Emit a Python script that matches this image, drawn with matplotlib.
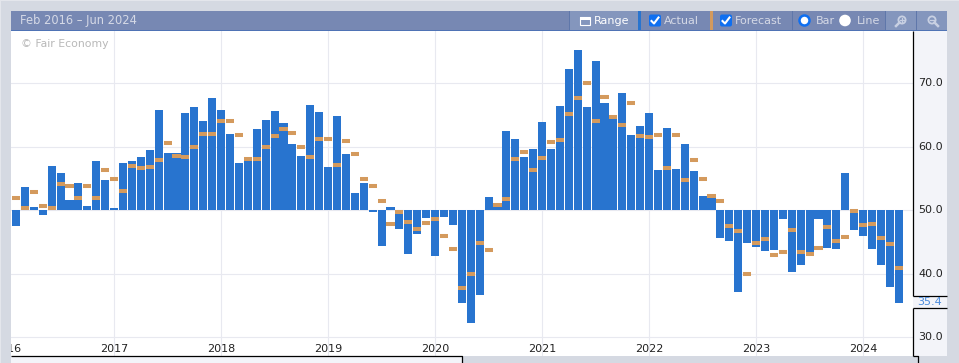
import numpy as np
import matplotlib
matplotlib.use("Agg")
import matplotlib.pyplot as plt
from matplotlib.patches import Rectangle, Circle, FancyBboxPatch

# Feb 2016 - May 2024, one value per month
actual = [47.5, 53.7, 50.5, 49.3, 57.0, 55.9, 51.6, 54.3, 50.7, 57.8, 54.8,
          50.4, 57.5, 57.8, 58.4, 59.5, 65.8, 59.0, 59.0, 65.3, 66.3, 64.1, 67.7,
          65.8, 62.0, 57.5, 57.8, 62.8, 64.2, 65.6, 63.8, 60.4, 58.6, 66.6, 65.5,
          56.8, 64.9, 58.9, 52.7, 54.3, 49.7, 44.4, 50.5, 47.1, 43.1, 46.3, 48.8,
          42.8, 49.0, 47.7, 35.4, 32.3, 36.6, 52.1, 51.2, 62.5, 61.2, 58.4, 59.7,
          63.9, 59.7, 66.4, 72.3, 75.2, 66.3, 73.5, 66.9, 64.4, 68.5, 61.9, 63.3,
          65.3, 56.4, 62.9, 56.5, 60.4, 56.2, 52.3, 51.9, 45.6, 45.2, 37.1, 44.9,
          44.2, 43.6, 43.8, 48.6, 40.3, 41.4, 43.4, 48.6, 44.1, 43.9, 55.9, 46.9,
          46.0, 43.9, 41.4, 37.9, 35.4]
forecast = [52.0, 50.4, 52.9, 50.7, 50.4, 54.2, 53.8, 52.0, 53.8, 52.0, 56.4,
            55.0, 53.0, 57.0, 56.7, 56.8, 57.9, 60.6, 58.6, 58.4, 60.0, 62.0, 62.0,
            64.1, 64.1, 61.9, 58.1, 58.1, 60.0, 61.7, 62.8, 62.2, 60.0, 58.4, 61.2,
            61.2, 57.1, 60.9, 58.9, 54.9, 53.8, 51.5, 47.8, 49.7, 48.2, 47.1, 48.0,
            48.6, 46.0, 43.9, 37.8, 40.0, 44.9, 43.8, 50.8, 51.8, 58.1, 59.2, 56.4,
            58.2, 60.8, 61.1, 65.2, 67.7, 70.1, 64.1, 67.8, 64.7, 63.4, 66.9, 61.7,
            61.5, 61.9, 56.7, 61.9, 54.8, 57.9, 54.9, 52.3, 51.5, 47.5, 46.7, 40.0,
            44.9, 45.5, 43.0, 43.4, 46.9, 43.4, 43.1, 44.1, 47.4, 45.2, 45.8, 49.9,
            47.7, 47.8, 45.6, 44.7, 40.9]
years = [2016, 2017, 2018, 2019, 2020, 2021, 2022, 2023, 2024]
y_ticks = [30, 40, 50, 60, 70]

W, H = 959, 363
BAR = "#2874cf"
FC = "#d49a5d"
GRID = "#e8e9f0"
BG = "#d5d9e2"
PANEL = "#f3f4f9"
HEAD = "#7788b3"
HEAD2 = "#8496bd"
plt.rcParams["font.family"] = "DejaVu Sans"

fig = plt.figure(figsize=(W / 100, H / 100), dpi=100, facecolor=BG)

# chrome, in pixel coordinates
ui = fig.add_axes([0, 0, 1, 1], zorder=0)
ui.set_xlim(0, W)
ui.set_ylim(H, 0)
ui.axis("off")


def box(x0, y0, x1, y1, color, ax=ui, **kw):
    ax.add_patch(Rectangle((x0, y0), x1 - x0, y1 - y0, fc=color, ec="none", **kw))


box(0, 0, W, 1, "#e4e6ec")
box(0, 0, 1, H, "#e4e6ec")
box(913, 31, 947, 356, PANEL)
box(11, 356, 462, 363, PANEL)

# main plot
left, right, top, bottom = 11, 913, 31, 356
ax = fig.add_axes([left / W, 1 - bottom / H, (right - left) / W, (bottom - top) / H], zorder=1)
step = 107 / 12
px0 = 16.0
for s in ax.spines.values():
    s.set_visible(False)
ax.tick_params(length=0, labelleft=False, labelbottom=False)

x = np.arange(len(actual))
a = np.array(actual)
f = np.array(forecast)
year_pos = [(yr - 2016) * 12 - 1 for yr in years]
ax.set_xticks(year_pos)
ax.set_yticks(y_ticks)
ax.grid(True, color=GRID, lw=0.8)
ax.set_axisbelow(True)
ax.bar(x, a - 50, bottom=50, width=0.9, color=BAR, zorder=2)
ax.hlines(f, x - 0.45, x + 0.45, color=FC, lw=2.9, zorder=3)
ax.set_xlim((left - px0) / step, (right - px0) / step)
ax.set_ylim(50 - (bottom - 210.3) / 6.35, 50 + (210.3 - top) / 6.35)
for yr, p in zip(years, year_pos):
    t = ax.annotate(str(yr), (p, 0), xycoords=ax.get_xaxis_transform(), xytext=(0, 7 / 1.39),
                    textcoords="offset points", ha="center", va="center",
                    fontsize=8, color="#222222", annotation_clip=False, clip_on=True)
    t.set_clip_path(ax.patch)
ax.annotate("© Fair Economy", (0, 1), xycoords="axes fraction", xytext=(10 / 1.39, -13 / 1.39),
            textcoords="offset points", va="center", fontsize=7.8, color="#b8b8b8")

# overlay: axis lines, header, toolbar
ov = fig.add_axes([0, 0, 1, 1], zorder=2)
ov.set_xlim(0, W)
ov.set_ylim(H, 0)
ov.axis("off")
ov.patch.set_alpha(0)

for v in y_ticks:
    ov.text(930.5, 210.3 - (v - 50) * 6.35, f"{v:.1f}", ha="center", va="center", fontsize=8, color="#222222")
ov.plot([912.5, 912.5], [31, 296], color="black", lw=0.9, solid_capstyle="butt")
ov.plot([912.5, 912.5], [307.5, 356], color="black", lw=0.9, solid_capstyle="butt")
ov.plot([912.5, 947], [296, 296], color="black", lw=0.9, solid_capstyle="butt")
ov.plot([912.5, 947], [307.5, 307.5], color="black", lw=0.9, solid_capstyle="butt")
ov.text(930, 302, f"{actual[-1]:.1f}", ha="center", va="center", fontsize=8, color="#4a8bdc")
ov.plot([11, 462, 462], [356, 356, 363], color="black", lw=0.9, solid_capstyle="butt")
ov.plot([912.5, 917.5, 917.5], [356, 356, 363], color="black", lw=0.9, solid_capstyle="butt")

box(11, 11, 947, 30, HEAD, ov)
box(11, 30, 947, 31, "#4f73b5", ov)
ov.text(20, 20.5, "Feb 2016 – Jun 2024", va="center", fontsize=8.3, color="#d5d9e6")

box(570, 11, 638, 30, HEAD2, ov)
box(885, 11, 916, 30, HEAD2, ov)
box(917, 11, 947, 30, HEAD2, ov)
for sx in [569, 792, 885, 916]:
    box(sx, 11, sx + 1, 30, "#5f77aa", ov)
box(638, 11, 641, 30, BAR, ov)
box(710, 11, 713, 30, FC, ov)

# calendar icon
ov.add_patch(Rectangle((579.5, 17), 10, 8, fc="none", ec="white", lw=0.8))
box(579.5, 17, 589.5, 20, "white", ov)
ov.text(594, 20.5, "Range", va="center", fontsize=8, color="white")

for cx in [649, 720]:
    ov.add_patch(FancyBboxPatch((cx + 1, 15.5), 10, 10, boxstyle="round,pad=1,rounding_size=2", fc="#0f6ff0", ec="none"))
    ov.plot([cx + 2.5, cx + 5, cx + 9.5], [21, 23.5, 17.5], color="white", lw=1.5)
ov.text(664, 20.5, "Actual", va="center", fontsize=8, color="#d5d9e6")
ov.text(735, 20.5, "Forecast", va="center", fontsize=8, color="#d5d9e6")

ov.add_patch(Circle((804.5, 20.5), 5, fc="white", ec="#0f6ff0", lw=1.8))
ov.text(816, 20.5, "Bar", va="center", fontsize=8, color="#d5d9e6")
ov.add_patch(Circle((845, 20.5), 5.8, fc="white", ec="none"))
ov.text(857, 20.5, "Line", va="center", fontsize=8, color="#d5d9e6")

# magnifiers
for mx, plus in [(902, True), (932, False)]:
    ov.add_patch(Circle((mx, 20), 3.6, fc="none", ec="#c8d0e2", lw=1.3))
    ov.plot([mx - 2.5, mx - 6] if plus else [mx + 2.5, mx + 6], [22.5, 26], color="#c8d0e2", lw=1.8)
    ov.plot([mx - 2, mx + 2], [20, 20], color="#c8d0e2", lw=0.9)
    if plus:
        ov.plot([mx, mx], [18, 22], color="#c8d0e2", lw=0.9)

fig.savefig("out.png", dpi=100, facecolor=BG)
